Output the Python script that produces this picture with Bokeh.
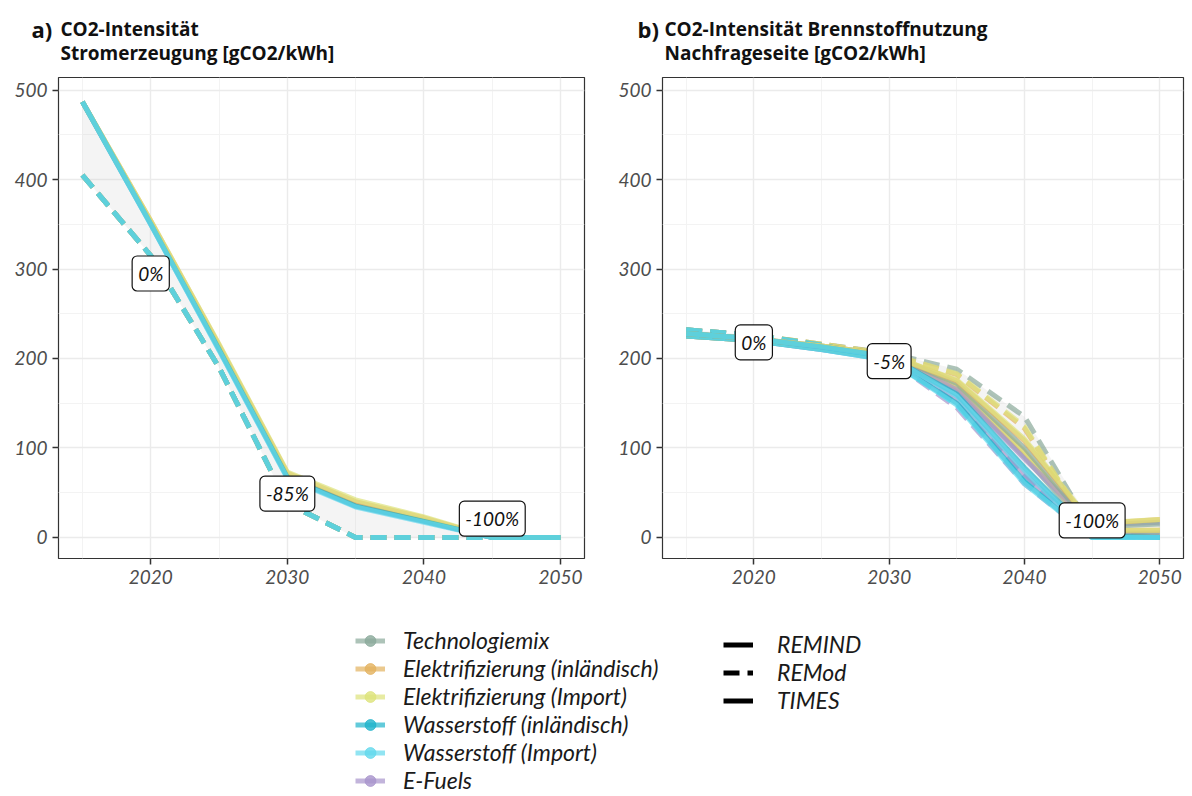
import numpy as np
from bokeh.plotting import figure
from bokeh.models import FixedTicker, Label, Legend, LegendItem, ColumnDataSource, Range1d
from bokeh.layouts import column, row
from bokeh.embed import file_html
from bokeh.resources import INLINE

# ---------------- data ----------------
years = [2015, 2020, 2025, 2030, 2035, 2040, 2045, 2050]

scenarios = ["Technologiemix", "Elektrifizierung (inländisch)", "Elektrifizierung (Import)",
             "Wasserstoff (inländisch)", "Wasserstoff (Import)", "E-Fuels"]
scenario_colors = ["#8aa99a", "#e3b25e", "#dde37a", "#1fb3ca", "#62d8ec", "#a894cc"]
models = ["REMIND", "REMod", "TIMES"]

# Panel a: CO2 intensity of power generation [gCO2/kWh]
a_remind_tm = [487, 352, 212, 69, 36, 19, 0, 0]
a_remind_el_in = [487, 354, 215, 72, 40, 22, 0, 0]
a_remind_el_im = [487, 354, 216, 73, 42, 23, 0, 0]
a_remind_h2_in = [487, 350, 210, 67, 35, 18, 0, 0]
a_remind_h2_im = [487, 350, 209, 66, 34, 17, 0, 0]
a_remind_ef = [487, 351, 211, 68, 35, 18, 0, 0]

a_remod_tm = [405, 315, 190, 38, 0, 0, 0, 0]
a_remod_el_in = [405, 315, 190, 38, 0, 0, 0, 0]
a_remod_el_im = [405, 315, 190, 38, 0, 0, 0, 0]
a_remod_h2_in = [405, 315, 190, 38, 0, 0, 0, 0]
a_remod_h2_im = [405, 315, 190, 38, 0, 0, 0, 0]
a_remod_ef = [405, 315, 190, 38, 0, 0, 0, 0]

# Panel b: CO2 intensity of fuel use, demand side [gCO2/kWh]
b_remind_tm = [228, 222, 214, 204, 172, 100, 12, 15]
b_remind_el_in = [228, 222, 214, 204, 175, 108, 15, 20]
b_remind_el_im = [228, 222, 214, 204, 176, 110, 16, 20]
b_remind_h2_in = [228, 222, 213, 202, 160, 78, 2, 0]
b_remind_h2_im = [228, 222, 213, 202, 158, 75, 0, 0]
b_remind_ef = [228, 222, 213, 203, 165, 88, 14, 17]

b_remod_tm = [232, 226, 216, 206, 188, 135, 8, 0]
b_remod_el_in = [232, 226, 216, 205, 182, 122, 5, 0]
b_remod_el_im = [232, 226, 216, 205, 183, 124, 5, 0]
b_remod_h2_in = [232, 226, 215, 200, 150, 68, 0, 0]
b_remod_h2_im = [232, 226, 215, 200, 148, 65, 0, 0]
b_remod_ef = [232, 226, 215, 199, 145, 60, 0, 0]

b_times_tm = [225, 220, 211, 200, 165, 90, 5, 5]
b_times_el_in = [225, 220, 211, 200, 168, 95, 8, 8]
b_times_el_im = [225, 220, 211, 200, 169, 96, 8, 8]
b_times_h2_in = [225, 220, 210, 198, 150, 62, 0, 0]
b_times_h2_im = [225, 220, 210, 198, 148, 60, 0, 0]
b_times_ef = [225, 220, 210, 199, 155, 70, 3, 5]

# percentage annotations
a_label_x = [2020, 2030, 2045]
a_label_y = [295, 49, 21]
a_label_text = ["0%", "-85%", "-100%"]
b_label_x = [2020, 2030, 2045]
b_label_y = [218, 197, 19]
b_label_text = ["0%", "-5%", "-100%"]

x_ticks = [2020, 2030, 2040, 2050]
x_minor = [2015, 2025, 2035, 2045]
y_ticks = [0, 100, 200, 300, 400, 500]
y_minor = [50, 150, 250, 350, 450]

panel_tags = ["a)", "b)"]
panel_title1 = ["CO2-Intensität", "CO2-Intensität Brennstoffnutzung"]
panel_title2 = ["Stromerzeugung [gCO2/kWh]", "Nachfrageseite [gCO2/kWh]"]

panel_a = {
    "REMod": [a_remod_tm, a_remod_el_in, a_remod_el_im, a_remod_h2_in, a_remod_h2_im, a_remod_ef],
    "REMIND": [a_remind_tm, a_remind_el_in, a_remind_el_im, a_remind_h2_in, a_remind_h2_im, a_remind_ef],
}
panel_b = {
    "REMod": [b_remod_tm, b_remod_el_in, b_remod_el_im, b_remod_h2_in, b_remod_h2_im, b_remod_ef],
    "TIMES": [b_times_tm, b_times_el_in, b_times_el_im, b_times_h2_in, b_times_h2_im, b_times_ef],
    "REMIND": [b_remind_tm, b_remind_el_in, b_remind_el_im, b_remind_h2_in, b_remind_h2_im, b_remind_ef],
}

# ---------------- style ----------------
DASH = {"REMIND": "solid", "REMod": "16 8", "TIMES": "solid"}
DRAW_ORDER = [5, 0, 1, 2, 3, 4]
TXT = "Lato"
TITLE_FONT = "Open Sans"
GRID = "#ebebeb"
X0, X1 = 2013.25, 2051.75
Y0, Y1 = -23.5, 514
TOP_H = 70


def make_panel(data, lab_x, lab_y, lab_t, width, left, right):
    p = figure(width=width, height=530,
               x_range=Range1d(X0, X1), y_range=Range1d(Y0, Y1),
               min_border_left=left, min_border_right=right,
               min_border_top=7, min_border_bottom=42,
               toolbar_location=None, output_backend="svg")
    p.outline_line_color = "#333333"
    p.outline_line_width = 1.2
    p.background_fill_color = "white"

    p.xaxis.ticker = FixedTicker(ticks=x_ticks, minor_ticks=x_minor)
    p.yaxis.ticker = FixedTicker(ticks=y_ticks, minor_ticks=y_minor)
    for ax in (p.xaxis, p.yaxis):
        ax.axis_line_color = None
        ax.major_tick_line_color = "#333333"
        ax.major_tick_line_width = 1.5
        ax.major_tick_out = 6
        ax.major_tick_in = 0
        ax.minor_tick_line_color = None
        ax.major_label_text_font = TXT
        ax.major_label_text_font_style = "italic"
        ax.major_label_text_font_size = "19px"
        ax.major_label_text_color = "#4d4d4d"
        ax.major_label_standoff = 5
    p.xgrid.grid_line_color = GRID
    p.ygrid.grid_line_color = GRID
    p.xgrid.grid_line_width = 1.4
    p.ygrid.grid_line_width = 1.4
    p.xgrid.minor_grid_line_color = "#f3f3f3"
    p.ygrid.minor_grid_line_color = "#f3f3f3"

    allv = np.array([v for m in data for v in data[m]], dtype=float)
    p.varea(x=years, y1=allv.min(axis=0), y2=allv.max(axis=0), fill_color="#c8c8c8", fill_alpha=0.2)

    for m in data:
        for i in DRAW_ORDER:
            p.line(years, data[m][i], line_color=scenario_colors[i], line_width=5,
                   line_alpha=0.7, line_dash=DASH[m])

    for x, y, t in zip(lab_x, lab_y, lab_t):
        p.add_layout(Label(x=x, y=y, text=t, text_align="center", text_baseline="middle",
                           text_font=TXT, text_font_style="italic", text_font_size="19px",
                           text_color="#111111", background_fill_color="white",
                           border_line_color="#111111", border_line_width=1.2,
                           border_radius=5, padding=6))
    return p


pa = make_panel(panel_a, a_label_x, a_label_y, a_label_text, 612, 58, 28)
pb = make_panel(panel_b, b_label_x, b_label_y, b_label_text, 576, 50, 5)

# ---------------- title strip (pixel coordinates, y downward) ----------------
top = figure(width=1188, height=TOP_H, x_range=Range1d(0, 1188), y_range=Range1d(TOP_H, 0),
             toolbar_location=None, output_backend="svg", min_border=0,
             outline_line_color=None, x_axis_location=None, y_axis_location=None)
top.grid.visible = False
tag_x = [31, 637]
title_x = [60, 664]
for tx, ttx, tag, t1, t2 in zip(tag_x, title_x, panel_tags, panel_title1, panel_title2):
    common = dict(text_align="left", text_baseline="middle", text_font=TITLE_FONT,
                  text_font_style="bold", text_color="#111111")
    top.add_layout(Label(x=tx, y=28, text=tag, text_font_size="22px", **common))
    top.add_layout(Label(x=ttx, y=28, text=t1, text_font_size="19px", **common))
    top.add_layout(Label(x=ttx, y=52, text=t2, text_font_size="19px", **common))

# ---------------- legend figure ----------------
leg = figure(width=1188, height=194, x_range=(0, 1), y_range=(0, 1),
             toolbar_location=None, output_backend="svg", min_border=0,
             outline_line_color=None, x_axis_location=None, y_axis_location=None)
leg.grid.visible = False

items_s = []
for s, c in zip(scenarios, scenario_colors):
    src = ColumnDataSource(dict(x=[-10, -9], y=[-10, -9]))
    r1 = leg.line("x", "y", source=src, line_color=c, line_width=5, line_alpha=0.7)
    r2 = leg.scatter("x", "y", source=src, marker="circle", size=8, fill_color=c,
                     line_color=c, fill_alpha=0.8, line_alpha=0.8)
    items_s.append(LegendItem(label=s, renderers=[r1, r2]))

items_m = []
for m in models:
    src = ColumnDataSource(dict(x=[-10, -9], y=[-10, -9]))
    r = leg.line("x", "y", source=src, line_color="black", line_width=5, line_dash=DASH[m])
    items_m.append(LegendItem(label=m, renderers=[r]))


def style_legend(lg, standoff):
    lg.label_text_font = TXT
    lg.label_text_font_style = "italic"
    lg.label_text_font_size = "23px"
    lg.label_text_color = "#1a1a1a"
    lg.border_line_color = None
    lg.background_fill_alpha = 0
    lg.padding = 0
    lg.margin = 0
    lg.spacing = 0
    lg.label_height = 27
    lg.glyph_height = 27
    lg.glyph_width = 30
    lg.label_standoff = standoff


lg1 = Legend(items=items_s, location=(355, 0))
style_legend(lg1, 18)
lg2 = Legend(items=items_m, location=(723, 80))
style_legend(lg2, 24)
leg.add_layout(lg1)
leg.add_layout(lg2)

layout = column(top, row(pa, pb), leg)
open("out.html", "w").write(file_html(layout, INLINE))
